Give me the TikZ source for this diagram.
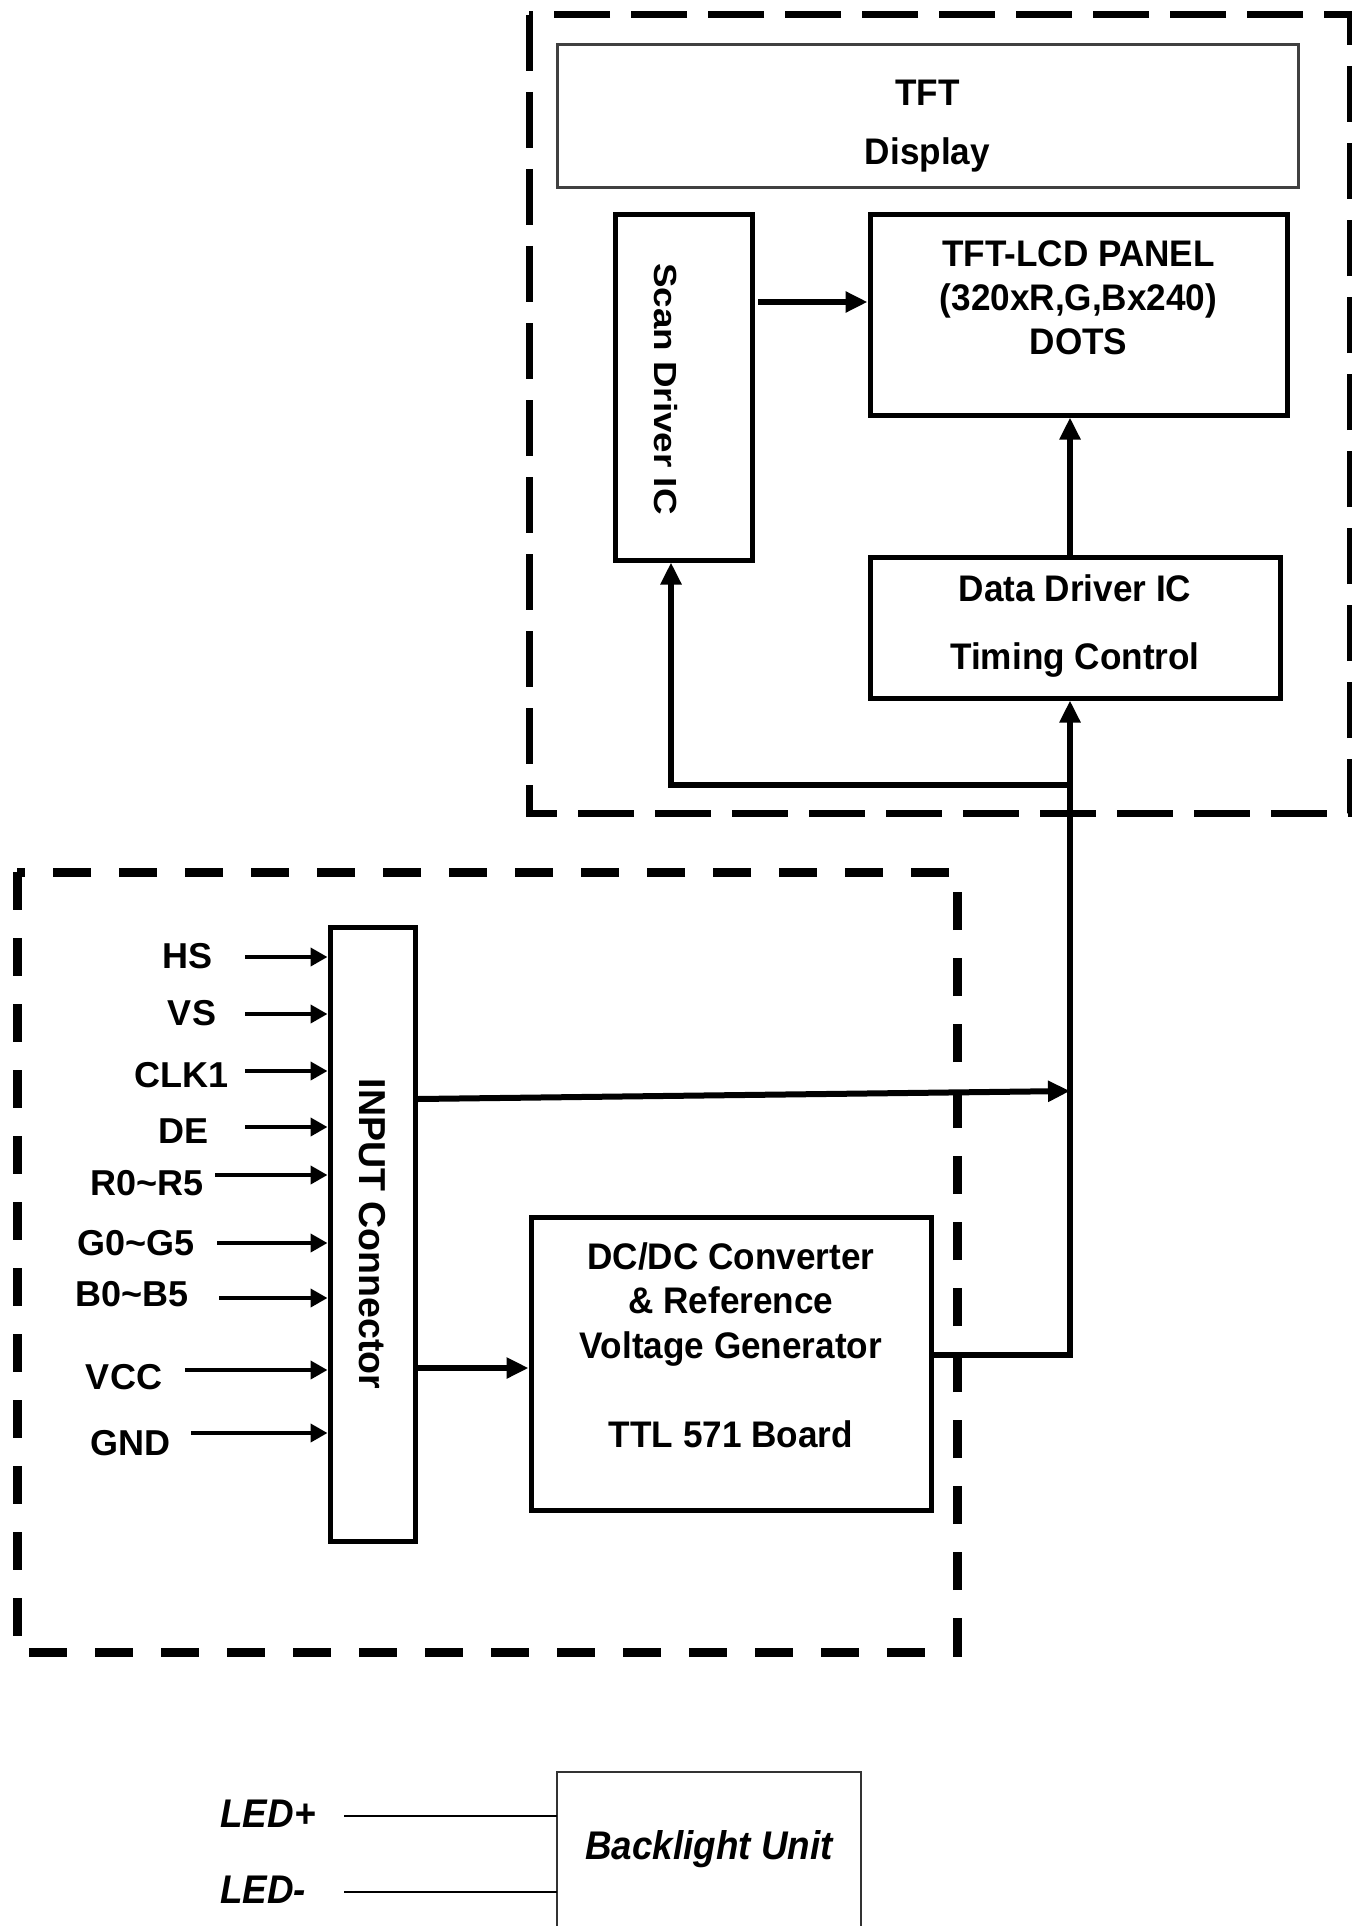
\documentclass[tikz,border=0pt]{standalone}
\usepackage{fontspec}
\setmainfont{Liberation Sans}
\newfontfamily\longfont[FakeStretch=1.15]{Liberation Sans}
\newfontfamily\boxfont[FakeStretch=0.95]{Liberation Sans}
\newfontfamily\narrowfont[FakeStretch=0.92]{Liberation Sans}
\usetikzlibrary{arrows.meta}

\begin{document}
\begin{tikzpicture}[x=0.5pt,y=-0.5pt,
  blk/.style={draw=black, line width=2.5pt, inner sep=0pt, align=center},
  boxtext/.style={font=\boxfont\bfseries\fontsize{18.5pt}{#1}\selectfont},
  big/.style={line width=3pt, -{Triangle[length=11pt,width=10pt]}},
  sig/.style={line width=2pt, -{Triangle[length=8.5pt,width=9pt]}},
  lbl/.style={inner sep=0pt, font=\bfseries\fontsize{18pt}{18pt}\selectfont},
  led/.style={inner sep=0pt, font=\narrowfont\bfseries\itshape\fontsize{20pt}{20pt}\selectfont},
  frame/.style={line width=#1, line join=miter}]
  \fill [white] (0,0) rectangle (1352,1926);
  \useasboundingbox (0,0) rectangle (1352,1926);

  \draw [frame=3.5pt, dash pattern=on 28pt off 10.5pt] (529,15) rectangle (1350,813);
  \draw [frame=4.5pt, dash pattern=on 19pt off 14pt] (17,872) rectangle (957,1652);

  \node [blk, draw=black!75, line width=1.5pt, minimum width=370.5pt, minimum height=71.5pt, boxtext=29.5pt] (disp) at (927.5,116.5) {\rule{0pt}{23pt}TFT\\Display\rule[-4pt]{0pt}{4pt}};
  \node [blk, minimum width=68.5pt, minimum height=172.5pt] (scan) at (683.5,387.5) {};
  \node [rotate=-90, inner sep=0pt, font=\longfont\bfseries\fontsize{16pt}{16pt}\selectfont] (scantext) at (666,389) {Scan Driver IC};
  \node [blk, minimum width=208.5pt, minimum height=100pt, boxtext=22pt] (panel) at (1078.5,315) {\rule{0pt}{15pt}TFT-LCD PANEL\\(320xR,G,Bx240)\\DOTS\rule[-20pt]{0pt}{20pt}};
  \node [blk, minimum width=205pt, minimum height=70.5pt, boxtext=34pt] (ddrv) at (1075,627.5) {\rule{0pt}{15pt}Data Driver IC\\Timing Control\rule[-7.5pt]{0pt}{7.5pt}};

  \node [blk, minimum width=42.5pt, minimum height=307pt, font=\bfseries\fontsize{18.75pt}{19pt}\selectfont] (conn) at (372.5,1234) {\rotatebox{-90}{INPUT Connector}};
  \node [blk, minimum width=200pt, minimum height=146.5pt, boxtext=22.25pt] (dcdc) at (731,1363.5) {\rule{0pt}{15pt}DC/DC Converter\\\& Reference\\Voltage Generator\\\mbox{}\\TTL 571 Board\rule[-20.5pt]{0pt}{20.5pt}};

  \node [lbl] (lhs) at (188,956) {HS};
  \node [lbl] (lvs) at (192,1013) {VS};
  \node [lbl] (lclk) at (182,1075) {CLK1};
  \node [lbl] (lde) at (184,1131) {DE};
  \node [lbl] (lr) at (147,1183) {R0\textasciitilde R5};
  \node [lbl] (lg) at (136,1243) {G0\textasciitilde G5};
  \node [lbl] (lb) at (132,1294) {B0\textasciitilde B5};
  \node [lbl] (lvcc) at (124,1377) {VCC};
  \node [lbl] (lgnd) at (130,1443) {GND};

  \coordinate (ihs) at (245,957);
  \coordinate (ivs) at (245,1014);
  \coordinate (iclk) at (245,1071);
  \coordinate (ide) at (245,1127);
  \coordinate (ir) at (215,1175);
  \coordinate (ig) at (217,1243);
  \coordinate (ib) at (219,1298);
  \coordinate (ivcc) at (185,1370);
  \coordinate (ignd) at (191,1433);
  \draw [sig] (ihs) -- (ihs -| conn.west);
  \draw [sig] (ivs) -- (ivs -| conn.west);
  \draw [sig] (iclk) -- (iclk -| conn.west);
  \draw [sig] (ide) -- (ide -| conn.west);
  \draw [sig] (ir) -- (ir -| conn.west);
  \draw [sig] (ig) -- (ig -| conn.west);
  \draw [sig] (ib) -- (ib -| conn.west);
  \draw [sig] (ivcc) -- (ivcc -| conn.west);
  \draw [sig] (ignd) -- (ignd -| conn.west);

  \coordinate (busA) at (1070,785);
  \coordinate (busB) at (1070,1091);
  \coordinate (busC) at (1070,1355);
  \coordinate (sb) at (671,785);
  \coordinate (c1) at (0,1099);
  \coordinate (c2) at (0,1368);
  \coordinate (c3) at (758,302);
  \draw [big] (conn.east |- c1) -- (busB);
  \draw [big] (conn.east |- c2) -- (dcdc.west |- c2);
  \draw [big] (dcdc.east |- busC) -- (busC) -- (ddrv.south -| busC);
  \draw [big] (busA) -- (sb) -- (scan.south -| sb);
  \draw [big] (ddrv.north -| busA) -- (panel.south -| busA);
  \draw [big] (c3) -- (c3 -| panel.west);

  \node [led, minimum width=152pt, minimum height=77pt] (blu) at (709,1849) {Backlight Unit};
  \draw [line width=1pt, black!80] (blu.south west) -- (blu.north west) -- (blu.north east) -- (blu.south east);
  \node [led] (ledp) at (268,1814) {LED+};
  \node [led] (ledm) at (263,1890) {LED-};
  \coordinate (lp) at (344,1816);
  \coordinate (lm) at (344,1892);
  \draw [line width=0.75pt] (lp) -- (lp -| blu.west);
  \draw [line width=0.75pt] (lm) -- (lm -| blu.west);
\end{tikzpicture}
\end{document}
